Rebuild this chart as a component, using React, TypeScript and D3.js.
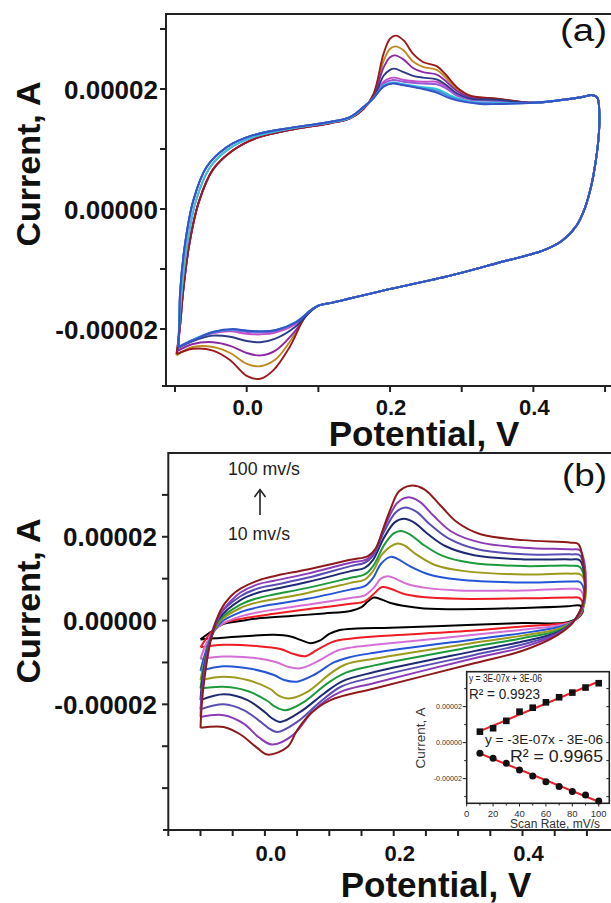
import React from "react";
import * as d3 from "d3";

type P = [number, number];

// ---------- Panel (a): potentials in V, currents in units of 1e-5 A ----------
const A_LEFT_INNER: P[] = [[-0.093,-1.95],[-0.089,-1.41],[-0.080,-0.58],[-0.067,0.11],[-0.047,0.66],[-0.019,0.98],[0.015,1.19],[0.065,1.33],[0.116,1.43],[0.144,1.51],[0.163,1.67]];
const A_LEFT_MID: P[] = [[-0.094,-1.92],[-0.091,-1.41],[-0.083,-0.58],[-0.071,0.13],[-0.052,0.68],[-0.024,1.01],[0.012,1.21],[0.065,1.35],[0.116,1.44],[0.144,1.52],[0.163,1.69]];
const A_LEFT_OUTER: P[] = [[-0.094,-1.90],[-0.093,-1.41],[-0.086,-0.58],[-0.0745,0.14],[-0.056,0.70],[-0.028,1.03],[0.009,1.23],[0.065,1.36],[0.116,1.45],[0.144,1.53],[0.163,1.70]];
const A_RIGHT: P[] = [[0.40,1.77],[0.442,1.82],[0.470,1.87],[0.481,1.90],[0.489,1.86],[0.492,1.60],[0.491,1.20],[0.487,0.80],[0.481,0.40],[0.472,0.02],[0.460,-0.28],[0.440,-0.53],[0.414,-0.69],[0.350,-0.90],[0.284,-1.11],[0.190,-1.36],[0.120,-1.56],[0.100,-1.61]];

const A_UP_RED: P[] = [[0.177,1.92],[0.191,2.59],[0.200,2.84],[0.208,2.89],[0.219,2.81],[0.232,2.59],[0.246,2.45],[0.265,2.38],[0.277,2.25],[0.293,2.03],[0.312,1.89],[0.349,1.84]];
const A_UP_GOLD: P[] = [[0.177,1.90],[0.191,2.47],[0.200,2.67],[0.208,2.71],[0.219,2.64],[0.232,2.46],[0.246,2.37],[0.265,2.32],[0.277,2.20],[0.293,2.00],[0.312,1.88],[0.349,1.84]];
const A_UP_PURPLE: P[] = [[0.177,1.88],[0.191,2.36],[0.200,2.53],[0.207,2.56],[0.219,2.49],[0.232,2.35],[0.246,2.28],[0.265,2.24],[0.277,2.14],[0.293,1.97],[0.312,1.86],[0.349,1.83]];
const A_UP_NAVY: P[] = [[0.177,1.86],[0.191,2.22],[0.200,2.32],[0.206,2.34],[0.219,2.28],[0.232,2.22],[0.246,2.19],[0.265,2.16],[0.277,2.08],[0.293,1.93],[0.312,1.84],[0.349,1.82]];
const A_UP_MAGENTA: P[] = [[0.177,1.86],[0.191,2.12],[0.200,2.18],[0.206,2.19],[0.219,2.15],[0.246,2.12],[0.265,2.12],[0.277,2.05],[0.293,1.91],[0.312,1.83],[0.349,1.81]];
const A_UP_VIOLET: P[] = [[0.177,1.86],[0.191,2.09],[0.204,2.15],[0.219,2.12],[0.246,2.09],[0.265,2.08],[0.277,2.02],[0.293,1.89],[0.312,1.82],[0.349,1.80]];
const A_UP_CYAN: P[] = [[0.177,1.85],[0.191,2.06],[0.204,2.11],[0.219,2.08],[0.246,2.03],[0.265,2.00],[0.280,1.92],[0.293,1.85],[0.312,1.79],[0.349,1.77]];
const A_UP_LTBLUE: P[] = [[0.177,1.85],[0.191,2.05],[0.204,2.10],[0.219,2.07],[0.246,2.01],[0.265,1.97],[0.280,1.89],[0.293,1.83],[0.312,1.78],[0.349,1.76]];
const A_UP_BLUE: P[] = [[0.177,1.85],[0.191,2.04],[0.203,2.09],[0.219,2.06],[0.246,2.00],[0.265,1.94],[0.280,1.86],[0.293,1.81],[0.326,1.75],[0.349,1.75]];

const A_LO_RED: P[] = [[0.084,-1.75],[0.060,-2.30],[0.037,-2.69],[0.019,-2.83],[0.000,-2.78],[-0.023,-2.52],[-0.047,-2.36],[-0.075,-2.33],[-0.098,-2.42]];
const A_LO_GOLD: P[] = [[0.086,-1.73],[0.062,-2.18],[0.040,-2.51],[0.019,-2.62],[0.000,-2.58],[-0.023,-2.40],[-0.047,-2.30],[-0.075,-2.30],[-0.098,-2.44]];
const A_LO_PURPLE: P[] = [[0.088,-1.71],[0.065,-2.07],[0.040,-2.36],[0.019,-2.44],[0.000,-2.40],[-0.023,-2.28],[-0.047,-2.22],[-0.075,-2.25],[-0.097,-2.37]];
const A_LO_NAVY: P[] = [[0.090,-1.70],[0.067,-1.97],[0.040,-2.16],[0.019,-2.22],[0.000,-2.20],[-0.023,-2.13],[-0.047,-2.11],[-0.075,-2.20],[-0.096,-2.32]];
const A_LO_MAGENTA: P[] = [[0.090,-1.69],[0.068,-1.92],[0.040,-2.06],[0.019,-2.09],[0.000,-2.08],[-0.023,-2.04],[-0.047,-2.07],[-0.075,-2.18],[-0.096,-2.31]];
const A_LO_VIOLET: P[] = [[0.090,-1.69],[0.068,-1.90],[0.040,-2.04],[0.019,-2.06],[0.000,-2.05],[-0.023,-2.02],[-0.047,-2.06],[-0.075,-2.18],[-0.096,-2.30]];
const A_LO_CYAN: P[] = [[0.090,-1.68],[0.069,-1.88],[0.040,-2.02],[0.019,-2.04],[0.000,-2.03],[-0.020,-2.01],[-0.047,-2.05],[-0.075,-2.18],[-0.095,-2.30]];
const A_LO_BLUE: P[] = [[0.090,-1.68],[0.070,-1.88],[0.040,-2.02],[0.019,-2.04],[0.000,-2.03],[-0.019,-2.00],[-0.047,-2.05],[-0.075,-2.19],[-0.095,-2.30]];

const A_SERIES = [
  { color: "#c08a22", left: A_LEFT_INNER, up: A_UP_GOLD, lo: A_LO_GOLD },
  { color: "#c44fc8", left: A_LEFT_INNER, up: A_UP_MAGENTA, lo: A_LO_MAGENTA },
  { color: "#8c2aa6", left: A_LEFT_INNER, up: A_UP_PURPLE, lo: A_LO_PURPLE },
  { color: "#9a1b1e", left: A_LEFT_INNER, up: A_UP_RED, lo: A_LO_RED },
  { color: "#9a5ad6", left: A_LEFT_MID, up: A_UP_VIOLET, lo: A_LO_VIOLET },
  { color: "#2c3b86", left: A_LEFT_OUTER, up: A_UP_NAVY, lo: A_LO_NAVY },
  { color: "#35c6d6", left: A_LEFT_MID, up: A_UP_CYAN, lo: A_LO_CYAN },
  { color: "#3f8fe0", left: A_LEFT_OUTER, up: A_UP_LTBLUE, lo: A_LO_CYAN },
  { color: "#3553c6", left: A_LEFT_OUTER, up: A_UP_BLUE, lo: A_LO_BLUE },
];

// ---------- Panel (b): full loops, V and 1e-5 A ----------
const B_10: P[] = [[-0.100,-0.45],[-0.085,-0.28],[-0.064,-0.08],[-0.038,-0.01],[-0.012,0.05],[0.040,0.11],[0.092,0.17],[0.133,0.23],[0.150,0.32],[0.160,0.46],[0.169,0.55],[0.180,0.51],[0.195,0.42],[0.220,0.34],[0.247,0.29],[0.300,0.27],[0.402,0.30],[0.470,0.34],[0.489,0.36],[0.494,0.28],[0.490,0.12],[0.470,-0.04],[0.400,-0.06],[0.325,-0.10],[0.195,-0.17],[0.143,-0.19],[0.115,-0.23],[0.100,-0.32],[0.085,-0.48],[0.071,-0.54],[0.055,-0.46],[0.040,-0.38],[0.014,-0.34],[-0.038,-0.38],[-0.075,-0.42],[-0.100,-0.45]];
const B_20: P[] = [[-0.100,-0.64],[-0.092,-0.45],[-0.080,-0.22],[-0.064,-0.06],[-0.038,0.04],[-0.010,0.11],[0.014,0.16],[0.066,0.27],[0.133,0.40],[0.155,0.46],[0.168,0.62],[0.182,0.80],[0.195,0.76],[0.215,0.64],[0.245,0.56],[0.300,0.52],[0.402,0.53],[0.475,0.55],[0.488,0.54],[0.494,0.40],[0.492,0.18],[0.478,-0.02],[0.455,-0.08],[0.400,-0.14],[0.325,-0.24],[0.170,-0.38],[0.135,-0.43],[0.107,-0.50],[0.081,-0.70],[0.063,-0.85],[0.045,-0.80],[0.024,-0.68],[-0.012,-0.61],[-0.064,-0.58],[-0.100,-0.64]];
const B_30: P[] = [[-0.100,-0.92],[-0.093,-0.62],[-0.082,-0.30],[-0.066,-0.08],[-0.038,0.10],[-0.010,0.20],[0.014,0.26],[0.066,0.38],[0.133,0.54],[0.155,0.60],[0.170,0.80],[0.180,1.00],[0.190,1.06],[0.200,1.02],[0.220,0.88],[0.250,0.78],[0.300,0.72],[0.402,0.72],[0.475,0.76],[0.489,0.74],[0.495,0.55],[0.492,0.22],[0.478,-0.02],[0.455,-0.12],[0.400,-0.22],[0.325,-0.34],[0.170,-0.58],[0.135,-0.64],[0.112,-0.72],[0.081,-0.98],[0.055,-1.14],[0.035,-1.10],[0.019,-1.00],[-0.012,-0.90],[-0.064,-0.86],[-0.100,-0.92]];
const B_40: P[] = [[-0.100,-1.20],[-0.094,-0.85],[-0.084,-0.40],[-0.068,-0.04],[-0.038,0.20],[-0.010,0.32],[0.014,0.39],[0.066,0.52],[0.133,0.74],[0.155,0.82],[0.168,1.02],[0.180,1.35],[0.195,1.52],[0.205,1.48],[0.225,1.30],[0.255,1.10],[0.300,0.98],[0.402,0.91],[0.475,0.93],[0.489,0.92],[0.496,0.70],[0.493,0.26],[0.478,-0.03],[0.455,-0.16],[0.400,-0.30],[0.325,-0.45],[0.170,-0.77],[0.130,-0.88],[0.107,-1.00],[0.076,-1.30],[0.050,-1.46],[0.030,-1.42],[0.014,-1.30],[-0.022,-1.15],[-0.064,-1.09],[-0.100,-1.20]];
const B_50: P[] = [[-0.100,-1.42],[-0.095,-1.05],[-0.086,-0.50],[-0.070,-0.02],[-0.038,0.30],[-0.010,0.44],[0.014,0.51],[0.066,0.66],[0.133,0.90],[0.155,0.98],[0.168,1.18],[0.183,1.60],[0.206,1.84],[0.218,1.78],[0.235,1.58],[0.265,1.32],[0.310,1.18],[0.402,1.10],[0.475,1.12],[0.490,1.10],[0.498,0.85],[0.494,0.30],[0.478,-0.03],[0.455,-0.20],[0.400,-0.36],[0.325,-0.53],[0.170,-0.91],[0.125,-1.05],[0.102,-1.26],[0.066,-1.70],[0.037,-1.86],[0.020,-1.78],[0.009,-1.64],[-0.027,-1.42],[-0.064,-1.34],[-0.100,-1.42]];
const B_60: P[] = [[-0.100,-1.62],[-0.096,-1.20],[-0.088,-0.60],[-0.071,0.00],[-0.038,0.38],[-0.010,0.54],[0.014,0.62],[0.066,0.78],[0.133,1.02],[0.155,1.10],[0.168,1.30],[0.185,1.80],[0.200,2.08],[0.211,2.14],[0.225,2.06],[0.245,1.82],[0.275,1.55],[0.320,1.38],[0.402,1.30],[0.475,1.31],[0.489,1.28],[0.496,1.00],[0.494,0.35],[0.478,-0.04],[0.455,-0.24],[0.400,-0.42],[0.325,-0.62],[0.170,-1.07],[0.125,-1.25],[0.097,-1.50],[0.061,-1.94],[0.032,-2.14],[0.015,-2.05],[0.004,-1.92],[-0.027,-1.68],[-0.064,-1.58],[-0.100,-1.62]];
const B_70: P[] = [[-0.100,-1.90],[-0.097,-1.40],[-0.089,-0.70],[-0.072,0.03],[-0.038,0.49],[-0.010,0.67],[0.014,0.75],[0.066,0.92],[0.133,1.18],[0.155,1.26],[0.168,1.45],[0.185,1.98],[0.202,2.35],[0.216,2.43],[0.232,2.34],[0.252,2.08],[0.280,1.78],[0.325,1.56],[0.402,1.46],[0.475,1.46],[0.489,1.44],[0.496,1.10],[0.494,0.38],[0.478,-0.04],[0.455,-0.28],[0.400,-0.50],[0.325,-0.73],[0.170,-1.23],[0.120,-1.45],[0.092,-1.74],[0.055,-2.18],[0.024,-2.42],[0.010,-2.32],[0.001,-2.20],[-0.027,-1.90],[-0.064,-1.76],[-0.100,-1.90]];
const B_80: P[] = [[-0.100,-2.12],[-0.097,-1.60],[-0.090,-0.80],[-0.073,0.08],[-0.038,0.58],[-0.010,0.77],[0.014,0.85],[0.066,1.02],[0.133,1.30],[0.155,1.38],[0.168,1.55],[0.185,2.12],[0.203,2.58],[0.218,2.70],[0.235,2.60],[0.256,2.30],[0.285,1.96],[0.330,1.70],[0.402,1.58],[0.475,1.58],[0.489,1.56],[0.496,1.20],[0.494,0.40],[0.478,-0.04],[0.455,-0.30],[0.400,-0.57],[0.325,-0.82],[0.170,-1.35],[0.118,-1.58],[0.086,-1.94],[0.050,-2.42],[0.019,-2.66],[0.005,-2.56],[-0.004,-2.45],[-0.033,-2.14],[-0.064,-2.00],[-0.100,-2.12]];
const B_90: P[] = [[-0.100,-2.30],[-0.098,-1.80],[-0.092,-1.10],[-0.083,-0.40],[-0.068,0.18],[-0.052,0.48],[-0.038,0.67],[-0.010,0.87],[0.014,0.95],[0.066,1.12],[0.133,1.38],[0.158,1.46],[0.170,1.65],[0.185,2.20],[0.205,2.80],[0.221,2.94],[0.240,2.84],[0.262,2.50],[0.290,2.12],[0.335,1.86],[0.402,1.74],[0.475,1.70],[0.489,1.68],[0.497,1.30],[0.495,0.45],[0.478,-0.05],[0.455,-0.32],[0.400,-0.64],[0.325,-0.90],[0.170,-1.49],[0.115,-1.72],[0.076,-2.14],[0.043,-2.74],[0.011,-2.96],[-0.010,-2.78],[-0.033,-2.46],[-0.064,-2.26],[-0.100,-2.30]];
const B_100: P[] = [[-0.100,-2.56],[-0.098,-2.00],[-0.094,-1.40],[-0.084,-0.46],[-0.069,0.24],[-0.053,0.58],[-0.038,0.76],[-0.010,0.96],[0.014,1.06],[0.066,1.22],[0.133,1.45],[0.160,1.54],[0.172,1.72],[0.185,2.25],[0.195,2.66],[0.208,3.08],[0.226,3.22],[0.247,3.14],[0.273,2.74],[0.299,2.34],[0.335,2.06],[0.402,1.92],[0.475,1.86],[0.487,1.82],[0.494,1.40],[0.495,0.50],[0.478,-0.05],[0.455,-0.34],[0.400,-0.72],[0.325,-1.02],[0.170,-1.62],[0.102,-1.90],[0.071,-2.22],[0.050,-2.62],[0.035,-3.02],[0.004,-3.20],[-0.012,-3.04],[-0.038,-2.72],[-0.064,-2.54],[-0.100,-2.56]];

const B_SERIES = [
  { color: "#000000", pts: B_10 },
  { color: "#ee1c24", pts: B_20 },
  { color: "#d46fd6", pts: B_30 },
  { color: "#2455d6", pts: B_40 },
  { color: "#9c9a1c", pts: B_50 },
  { color: "#1d9a3c", pts: B_60 },
  { color: "#1f2a74", pts: B_70 },
  { color: "#5a4db4", pts: B_80 },
  { color: "#8d3cb8", pts: B_90 },
  { color: "#8e1b1b", pts: B_100 },
];

// ---------- Inset ----------
const SCAN_RATE = [10, 20, 30, 40, 50, 60, 70, 80, 90, 100];
const I_ANODIC = [0.61, 0.80, 1.21, 1.72, 1.94, 2.24, 2.52, 2.78, 3.06, 3.30];
const I_CATHODIC = [-0.59, -0.87, -1.14, -1.52, -1.85, -2.17, -2.44, -2.72, -2.91, -3.24];

const A_XTICKS = [-0.1, 0, 0.1, 0.2, 0.3, 0.4, 0.5];
const A_XLABELS = [0, 0.2, 0.4];
const A_YTICKS = [-2, -1, 0, 1, 2, 3];
const A_YLABELS = [-2, 0, 2];
const B_XTICKS = [-0.15, -0.1, -0.05, 0, 0.05, 0.1, 0.15, 0.2, 0.25, 0.3, 0.35, 0.4, 0.45, 0.5];
const B_XLABELS = [0, 0.2, 0.4];
const B_YTICKS = [-4, -3, -2, -1, 0, 1, 2, 3];
const B_YLABELS = [-2, 0, 2];
const IN_XTICKS = [0, 10, 20, 30, 40, 50, 60, 70, 80, 90, 100];
const IN_XLABELS = [0, 20, 40, 60, 80, 100];
const IN_YTICKS = [-3, -2, -1, 0, 1, 2, 3];
const IN_YLABELS = [-2, 0, 2];

const FONT = "'Liberation Sans', Arial, Helvetica, sans-serif";
const fmtA = (u: number) => (u < 0 ? "-" : "") + Math.abs(u * 1e-5).toFixed(5);
const fmtV = (v: number) => v.toFixed(1);

function fit(xs: number[], ys: number[]) {
  const mx = d3.mean(xs)!, my = d3.mean(ys)!;
  const sxy = d3.sum(xs, (x, i) => (x - mx) * (ys[i] - my));
  const sxx = d3.sum(xs, (x) => (x - mx) * (x - mx));
  const b = sxy / sxx;
  return { b, a: my - b * mx };
}

export default function App() {
  const W = 611, H = 903;
  const xA = d3.scaleLinear().domain([-0.1126, 0.52]).range([166, 619.4]);
  const yA = d3.scaleLinear().domain([-2.95, 3.25]).range([386, 14]);
  const xB = d3.scaleLinear().domain([-0.15, 0.55]).range([168.3, 619.1]);
  const yB = d3.scaleLinear().domain([-5, 4]).range([830, 453]);
  const xI = d3.scaleLinear().domain([0, 108]).range([466.7, 609.3]);
  const yI = d3.scaleLinear().domain([-3.37, 3.94]).range([803.3, 671.7]);

  const lineA = d3.line<P>().x((d) => xA(d[0])).y((d) => yA(d[1])).curve(d3.curveCatmullRom.alpha(0.5));
  const lineB = d3.line<P>().x((d) => xB(d[0])).y((d) => yB(d[1])).curve(d3.curveCatmullRom.alpha(0.5));

  const fa = fit(SCAN_RATE, I_ANODIC);
  const fc = fit(SCAN_RATE, I_CATHODIC);
  const x0 = SCAN_RATE[0], x1 = SCAN_RATE[SCAN_RATE.length - 1];

  return (
    <svg width={W} height={H} viewBox={`0 0 ${W} ${H}`} style={{ display: "block", position: "absolute", left: 0, top: 0, background: "#fff" }} fontFamily={FONT}>
      <rect x={0} y={0} width={W} height={H} fill="#fff" />
      {/* ===== Panel (a) ===== */}
      <g>
        {A_SERIES.map((s, i) => {
          const pts: P[] = [s.lo[s.lo.length - 1], ...s.left, ...s.up, ...A_RIGHT, ...s.lo];
          return <path key={i} d={lineA(pts) || ""} fill="none" stroke={s.color} strokeWidth={1.9} strokeLinejoin="round" />;
        })}
        <path d={`M${xA.range()[0]},${yA.range()[0]} V${yA.range()[1]} H${xA.range()[1]}`} fill="none" stroke="#222" strokeWidth={2} />
        <line x1={162} x2={xA.range()[1]} y1={yA.range()[0]} y2={yA.range()[0]} stroke="#222" strokeWidth={2} />
        {A_XTICKS.map((t) => (
          <line key={t} x1={xA(t)} x2={xA(t)} y1={386} y2={392} stroke="#222" strokeWidth={2} />
        ))}
        {A_YTICKS.map((t) => (
          <line key={t} x1={160} x2={166} y1={yA(t)} y2={yA(t)} stroke="#222" strokeWidth={2} />
        ))}
        {A_XLABELS.map((t) => (
          <text key={t} x={xA(t) + 1} y={415} fontSize={22} fontWeight="bold" textAnchor="middle" fill="#111">{fmtV(t)}</text>
        ))}
        {A_YLABELS.map((t) => (
          <text key={t} x={158} y={yA(t) + 9.5} fontSize={26} fontWeight="bold" textAnchor="end" fill="#111">{fmtA(t)}</text>
        ))}
        <text transform="translate(40,164) rotate(-90)" fontSize={34} fontWeight="bold" textAnchor="middle" fill="#111">Current, A</text>
        <text x={424} y={446} fontSize={35} fontWeight="bold" textAnchor="middle" fill="#111">Potential, V</text>
        <text x={607} y={41} fontSize={31} textAnchor="end" textLength={47} lengthAdjust="spacingAndGlyphs" fill="#111">(a)</text>
      </g>

      {/* ===== Panel (b) ===== */}
      <g>
        {B_SERIES.map((s, i) => (
          <path key={i} d={lineB(s.pts) || ""} fill="none" stroke={s.color} strokeWidth={2} strokeLinejoin="round" />
        ))}
        <path d={`M${xB.range()[0]},${yB.range()[0]} V${yB.range()[1]} H${xB.range()[1]}`} fill="none" stroke="#222" strokeWidth={2} />
        <line x1={163} x2={xB.range()[1]} y1={yB.range()[0]} y2={yB.range()[0]} stroke="#222" strokeWidth={2} />
        {B_XTICKS.map((t) => (
          <line key={t} x1={xB(t)} x2={xB(t)} y1={830} y2={836} stroke="#222" strokeWidth={2} />
        ))}
        {B_YTICKS.map((t) => (
          <line key={t} x1={162} x2={168.3} y1={yB(t)} y2={yB(t)} stroke="#222" strokeWidth={2} />
        ))}
        {B_XLABELS.map((t) => (
          <text key={t} x={xB(t) + 6} y={861} fontSize={22} fontWeight="bold" textAnchor="middle" fill="#111">{fmtV(t)}</text>
        ))}
        {B_YLABELS.map((t) => (
          <text key={t} x={157} y={yB(t) + 9.5} fontSize={26} fontWeight="bold" textAnchor="end" fill="#111">{fmtA(t)}</text>
        ))}
        <text transform="translate(40,601) rotate(-90)" fontSize={34} fontWeight="bold" textAnchor="middle" fill="#111">Current, A</text>
        <text x={436} y={897} fontSize={35} fontWeight="bold" textAnchor="middle" fill="#111">Potential, V</text>
        <text x={607} y={486} fontSize={31} textAnchor="end" textLength={45} lengthAdjust="spacingAndGlyphs" fill="#111">(b)</text>
        <text x={228} y={475} fontSize={18} textLength={72} lengthAdjust="spacingAndGlyphs" fill="#222">100 mv/s</text>
        <text x={228} y={540} fontSize={18} textLength={62} lengthAdjust="spacingAndGlyphs" fill="#222">10 mv/s</text>
        <line x1={260} x2={260} y1={515} y2={490} stroke="#222" strokeWidth={1.6} />
        <path d="M254.5,497 L260,489.5 L265.5,497" fill="none" stroke="#222" strokeWidth={1.6} />
      </g>

      {/* ===== Inset ===== */}
      <g>
        <rect x={466.7} y={671.7} width={609.3 - 466.7} height={803.3 - 671.7} fill="#fff" stroke="#222" strokeWidth={1.6} />
        {IN_XTICKS.map((t) => (
          <line key={t} x1={xI(t)} x2={xI(t)} y1={803.3} y2={t % 20 === 0 ? 806.5 : 805.5} stroke="#222" strokeWidth={1} />
        ))}
        {IN_YTICKS.map((t) => (
          <g key={t}>
            <line x1={t % 2 === 0 ? 462.7 : 464.2} x2={466.7} y1={yI(t)} y2={yI(t)} stroke="#222" strokeWidth={1} />
            <line x1={609.3} x2={606.3} y1={yI(t)} y2={yI(t)} stroke="#222" strokeWidth={1} />
          </g>
        ))}
        {IN_XLABELS.map((t) => (
          <text key={t} x={xI(t)} y={816.5} fontSize={9.5} textAnchor="middle" fill="#333">{t}</text>
        ))}
        {IN_YLABELS.map((t) => (
          <text key={t} x={462} y={yI(t) + 2.5} fontSize={7.2} textAnchor="end" fill="#333">{fmtA(t)}</text>
        ))}
        <text x={555} y={828} fontSize={12} textAnchor="middle" textLength={90} lengthAdjust="spacingAndGlyphs" fill="#333">Scan Rate, mV/s</text>
        <text transform="translate(425,738) rotate(-90)" fontSize={13.5} textAnchor="middle" fill="#333">Current, A</text>
        <line x1={xI(x0)} y1={yI(fa.a + fa.b * x0)} x2={xI(x1)} y2={yI(fa.a + fa.b * x1)} stroke="#e8202a" strokeWidth={2} />
        <line x1={xI(x0)} y1={yI(fc.a + fc.b * x0)} x2={xI(x1)} y2={yI(fc.a + fc.b * x1)} stroke="#e8202a" strokeWidth={2} />
        {SCAN_RATE.map((s, i) => (
          <rect key={"s" + s} x={xI(s) - 3.3} y={yI(I_ANODIC[i]) - 3.3} width={6.6} height={6.6} fill="#111" />
        ))}
        {SCAN_RATE.map((s, i) => (
          <circle key={"c" + s} cx={xI(s)} cy={yI(I_CATHODIC[i])} r={3.5} fill="#111" />
        ))}
        <text x={469} y={682} fontSize={10} textLength={73} lengthAdjust="spacingAndGlyphs" fill="#222">y = 3E-07x + 3E-06</text>
        <text x={469} y={699} fontSize={14} textLength={71} lengthAdjust="spacingAndGlyphs" fill="#222">R² = 0.9923</text>
        <text x={485} y={744} fontSize={13} textLength={118} lengthAdjust="spacingAndGlyphs" fill="#222">y = -3E-07x - 3E-06</text>
        <text x={510} y={762} fontSize={17} textLength={93} lengthAdjust="spacingAndGlyphs" fill="#222">R² = 0.9965</text>
      </g>
    </svg>
  );
}
